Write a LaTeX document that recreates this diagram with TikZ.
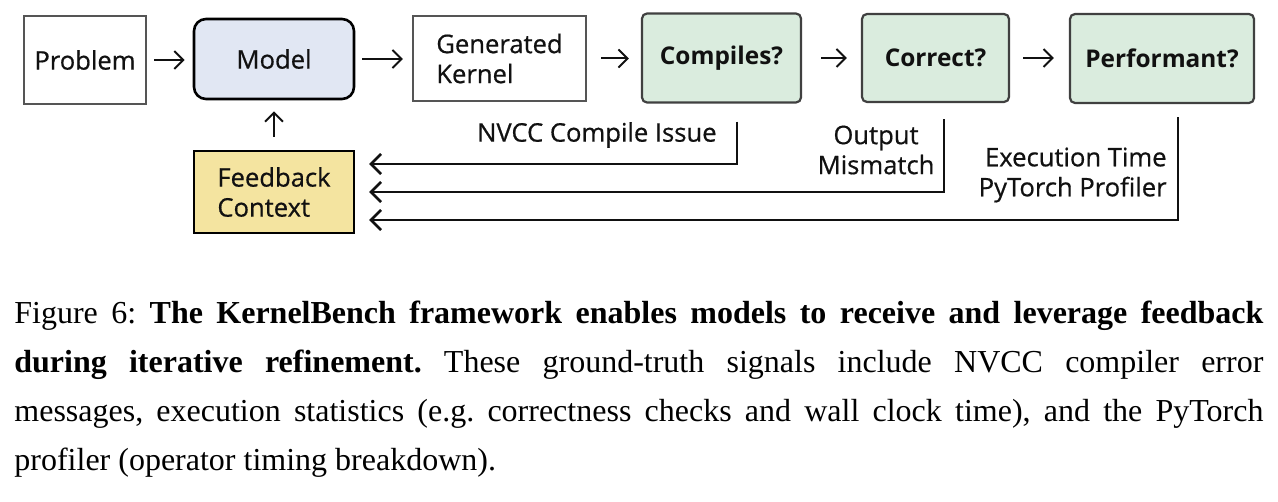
\documentclass[tikz,border=0pt]{standalone}
\usepackage{fontspec}
\setmainfont{Liberation Serif}
\newfontfamily\diagfont{Open Sans}
\newfontfamily\mediumfont{Open Sans}[FakeBold=0.6]
\usetikzlibrary{arrows.meta}
\definecolor{modelblue}{RGB}{225,231,243}
\definecolor{checkgreen}{RGB}{218,236,222}
\definecolor{fbyellow}{RGB}{244,228,160}
\definecolor{boxgray}{RGB}{85,85,85}
\definecolor{inkblack}{RGB}{17,17,17}
\begin{document}
\begin{tikzpicture}[x=0.5pt, y=-0.5pt,
    lbl/.style={font=\mediumfont\fontsize{12.8}{15}\selectfont, text=inkblack, inner sep=0pt},
    plain/.style={lbl, draw=boxgray, line width=1.1pt, minimum height=44pt},
    check/.style={plain, draw=black!75, line width=1.1pt, fill=checkgreen, rounded corners=2.5pt, font=\diagfont\bfseries\fontsize{12.2}{15}\selectfont},
    flow/.style={draw=inkblack, line width=1pt, -{Straight Barb[length=4.5pt,width=9pt]}},
    back/.style={draw=inkblack, line width=1.3pt, -{Straight Barb[length=5pt,width=10pt]}, shorten >=7pt}]
\useasboundingbox (0,0) rectangle (1278,502);

\node (prob) at (85,60)[plain, minimum width=61pt]{Problem};
\node (model) at (274,59)[plain, draw=black, line width=1.3pt, fill=modelblue, rounded corners=6pt, minimum width=80pt, minimum height=40pt]{Model};
\node (gen) at (499.5,58.5)[plain, minimum width=86.5pt, minimum height=42.5pt, align=left]{Generated\\Kernel};
\node (comp) at (721.5,58)[check, minimum width=79.5pt, minimum height=44.5pt]{Compiles?};
\node (corr) at (935.5,58)[check, minimum width=73.5pt]{Correct?};
\node (perf) at (1162,58.5)[check, minimum width=92pt, minimum height=44.5pt]{Performant?};
\node (fb) at (274,192)[plain, draw=black, line width=1.2pt, fill=fbyellow, minimum width=80pt, minimum height=41pt, align=left]{Feedback\\Context};

\foreach \a/\b/\s/\t in {prob/model/3.5/4, model/gen/3.5/4.5, gen/comp/7/6, comp/corr/9.5/7, corr/perf/6.5/7.5}
{
    \draw[flow, shorten <=\s pt, shorten >=\t pt] (\a.east) -- (\a.east -| \b.west);
}
\draw[flow, shorten <=6.5pt, shorten >=5.5pt] (fb.north) -- (model.south);

\draw[back, shorten <=9pt] ([xshift=7.75pt]comp.south) |- ([yshift=14pt]fb.east);
\draw[back, shorten <=8pt] ([xshift=4.25pt]corr.south) |- (fb.east);
\draw[back, shorten <=6.5pt] ([xshift=8pt]perf.south) |- ([yshift=-14pt]fb.east);

\node (issue) at (717,135)[lbl, anchor=east]{NVCC Compile Issue};
\node (mismatch) at (876,150)[lbl, align=center]{Output\\Mismatch};
\node (timing) at (1167,175)[lbl, anchor=east, align=right]{Execution Time\\PyTorch Profiler};

\node (cap) at (14,323)[anchor=base west, inner sep=0pt, text width=624.5pt, align=justify, font=\fontsize{16}{24.5}\selectfont\frenchspacing]{Figure 6: \textbf{The KernelBench framework enables models to receive and leverage feedback}\linebreak \textbf{during iterative refinement.} These ground-truth signals include NVCC compiler error\linebreak messages, execution statistics (e.g.\ correctness checks and wall clock time), and the PyTorch\linebreak profiler (operator timing breakdown).};
\end{tikzpicture}
\end{document}
